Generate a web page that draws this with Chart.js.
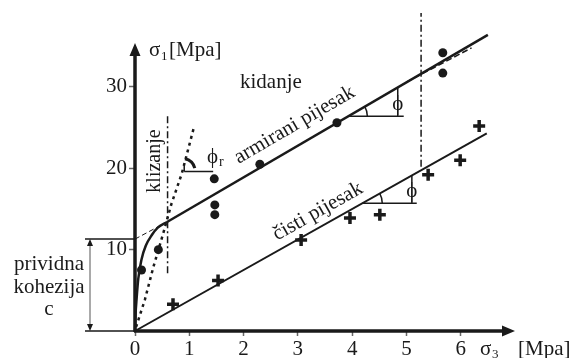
<!DOCTYPE html>
<html>
<head>
<meta charset="utf-8">
<script src="https://cdn.jsdelivr.net/npm/chart.js@4.4.1/dist/chart.umd.min.js"></script>
<style>
  body { margin: 0; background: #fff; }
  canvas { display: block; }
</style>
</head>
<body>
<canvas id="chart" width="572" height="358"></canvas>
<script>
// armirani pijesak (dots)
const armX = [0.12, 0.43, 1.46, 1.47, 1.47, 2.30, 3.72, 5.67, 5.67]
const armY = [7.5, 10.0, 18.7, 15.5, 14.3, 20.5, 25.6, 34.2, 31.7]
// čisti pijesak (crosses)
const cisX = [0.70, 1.53, 3.06, 3.96, 4.51, 5.40, 5.99, 6.34]
const cisY = [3.3, 6.2, 11.2, 13.9, 14.3, 19.2, 21.0, 25.2]

// envelopes
const armLineX = [0.59, 6.5]
const armLineY = [13.4, 36.4]
const cisLineX = [0, 6.48]
const cisLineY = [0, 24.3]
const curveX = [0, 0.01, 0.03, 0.06, 0.12, 0.2, 0.31, 0.42, 0.59]
const curveY = [0, 2, 4, 6.4, 8.8, 10.5, 11.8, 12.7, 13.4]
const dashStartX = [0, 0.59]
const dashStartY = [11.3, 13.4]
const dashEndX = [5.0, 6.2]
const dashEndY = [30.6, 34.8]
const slipX = [0.02, 0.18, 0.34, 0.52, 0.67, 0.86, 1.08]
const slipY = [0.5, 3.8, 7.9, 12.0, 15.6, 19.3, 24.9]
const klizX = [0.6, 0.6]
const klizY = [7.1, 26.6]
const breakX = [5.27, 5.27]
const breakY = [20.2, 39.1]

const xTicks = [0, 1, 2, 3, 4, 5, 6]
const yTicks = [10, 20, 30]
const cohesion = 11.3

const FONT = "'Liberation Serif', 'Times New Roman', serif"
const INK = "#1a1a1a"

function pts(xs, ys) {
  return xs.map(function (v, i) { return { x: v, y: ys[i] } })
}

function line(xs, ys, width, dash, extra) {
  return Object.assign({
    data: pts(xs, ys),
    showLine: true,
    borderColor: INK,
    borderWidth: width,
    borderDash: dash || [],
    pointRadius: 0,
    fill: false,
    clip: false,
  }, extra || {})
}

function text(ctx, str, x, y, size, opts) {
  opts = opts || {}
  ctx.save()
  ctx.font = size + "px " + FONT
  ctx.fillStyle = INK
  ctx.textAlign = opts.align || "left"
  ctx.textBaseline = opts.baseline || "alphabetic"
  ctx.translate(x, y)
  if (opts.rot) ctx.rotate(opts.rot)
  ctx.fillText(str, 0, 0)
  ctx.restore()
}

const overlay = {
  id: "overlay",
  afterDatasetsDraw(chart) {
    const ctx = chart.ctx
    const xs = chart.scales.x
    const ys = chart.scales.y
    const X = function (v) { return xs.getPixelForValue(v) }
    const Y = function (v) { return ys.getPixelForValue(v) }
    const x0 = X(0), y0 = Y(0)
    const xEnd = X(xs.max), yEnd = Y(ys.max)

    ctx.save()
    ctx.strokeStyle = INK
    ctx.fillStyle = INK
    ctx.lineCap = "butt"

    // axes with arrows
    ctx.lineWidth = 3.5
    ctx.beginPath()
    ctx.moveTo(x0, y0 + 1)
    ctx.lineTo(x0, yEnd + 8)
    ctx.moveTo(x0 - 1, y0)
    ctx.lineTo(xEnd - 8, y0)
    ctx.stroke()
    ctx.beginPath()
    ctx.moveTo(x0, yEnd)
    ctx.lineTo(x0 - 5.5, yEnd + 13)
    ctx.lineTo(x0 + 5.5, yEnd + 13)
    ctx.closePath()
    ctx.moveTo(xEnd, y0)
    ctx.lineTo(xEnd - 13, y0 - 5.5)
    ctx.lineTo(xEnd - 13, y0 + 5.5)
    ctx.closePath()
    ctx.fill()

    // cohesion dimension
    const yc = Y(cohesion)
    ctx.lineWidth = 1.5
    ctx.beginPath()
    ctx.moveTo(85, yc); ctx.lineTo(x0, yc)
    ctx.moveTo(85, y0); ctx.lineTo(x0, y0)
    ctx.stroke()
    ctx.lineWidth = 1
    ctx.strokeStyle = "#555"
    ctx.beginPath()
    ctx.moveTo(90, yc + 6); ctx.lineTo(90, y0 - 6)
    ctx.stroke()
    ctx.beginPath()
    ctx.moveTo(90, yc); ctx.lineTo(87, yc + 7); ctx.lineTo(93, yc + 7); ctx.closePath()
    ctx.moveTo(90, y0); ctx.lineTo(87, y0 - 7); ctx.lineTo(93, y0 - 7); ctx.closePath()
    ctx.fill()
    ctx.strokeStyle = INK

    // angle markers (phi) on both envelopes
    function angleMark(lx, ly, yh, xRight, xTick, r) {
      const p1 = { x: X(lx[0]), y: Y(ly[0]) }
      const p2 = { x: X(lx[1]), y: Y(ly[1]) }
      const py = Y(yh)
      const t = (py - p1.y) / (p2.y - p1.y)
      const vx = p1.x + t * (p2.x - p1.x)
      const ang = Math.atan2(p2.y - p1.y, p2.x - p1.x)
      ctx.lineWidth = 1.5
      ctx.beginPath()
      ctx.moveTo(vx, py); ctx.lineTo(X(xRight), py)
      const tx = X(xTick)
      const tt = (tx - p1.x) / (p2.x - p1.x)
      ctx.moveTo(tx, py); ctx.lineTo(tx, p1.y + tt * (p2.y - p1.y))
      ctx.stroke()
      ctx.beginPath()
      ctx.arc(vx, py, r, ang, 0)
      ctx.stroke()
      return tx
    }
    const tu = angleMark(armLineX, armLineY, 26.4, 4.95, 4.84, 19)
    const tl = angleMark(cisLineX, cisLineY, 15.7, 5.19, 5.10, 20)

    // phi_r marker on the sliding line
    const vy = Y(19.6)
    const vx = X(0.87)
    ctx.lineWidth = 1.5
    ctx.beginPath()
    ctx.moveTo(vx + 2, vy); ctx.lineTo(X(1.44), vy)
    ctx.moveTo(vx + 2, vy); ctx.lineTo(vx + 2, vy - 7)
    ctx.stroke()
    ctx.lineWidth = 3
    ctx.beginPath()
    ctx.arc(vx, vy, 13, -78 * Math.PI / 180, -15 * Math.PI / 180)
    ctx.stroke()
    ctx.restore()

    // labels
    text(ctx, "σ", 149, 56, 21)
    text(ctx, "1", 161, 60, 13)
    text(ctx, "[Mpa]", 169, 56, 21)
    text(ctx, "σ", 480, 355, 21)
    text(ctx, "3", 492, 358, 13)
    text(ctx, "[Mpa]", 518, 355, 21)
    text(ctx, "kidanje", 240, 88, 21)
    text(ctx, "klizanje", 160, 161, 20, { rot: -Math.PI / 2, align: "center" })
    text(ctx, "ϕ", 207, 163, 21)
    text(ctx, "r", 219, 166, 14)
    text(ctx, "ϕ", tu, 110, 21, { align: "center" })
    text(ctx, "ϕ", tl, 197, 21, { align: "center" })
    text(ctx, "prividna", 49, 270, 21, { align: "center" })
    text(ctx, "kohezija", 49, 293, 21, { align: "center" })
    text(ctx, "c", 49, 315, 21, { align: "center" })

    function along(str, lx, ly, at, off) {
      const a = Math.atan2(Y(ly[1]) - Y(ly[0]), X(lx[1]) - X(lx[0]))
      const t = (at - lx[0]) / (lx[1] - lx[0])
      const px = X(at)
      const py = Y(ly[0] + t * (ly[1] - ly[0]))
      text(ctx, str, px + off * Math.sin(a), py - off * Math.cos(a), 21, { rot: a, align: "center" })
    }
    along("armirani pijesak", armLineX, armLineY, 3.12, 14)
    along("čisti pijesak", cisLineX, cisLineY, 3.5, 9)
  },
}

const ctx = document.getElementById("chart").getContext("2d")
const chart = new Chart(ctx, {
  type: "scatter",
  data: {
    datasets: [
      line(curveX, curveY, 2.5, [], { cubicInterpolationMode: "monotone" }),
      line(armLineX, armLineY, 2.5),
      line(cisLineX, cisLineY, 2),
      line(dashStartX, dashStartY, 1, [5, 3]),
      line(dashEndX, dashEndY, 1.5, [6, 3]),
      line(slipX, slipY, 2.5, [3, 4]),
      line(klizX, klizY, 1.5, [7, 3, 2, 3]),
      line(breakX, breakY, 1.5, [7, 3, 2, 3]),
      {
        data: pts(armX, armY),
        pointStyle: "circle",
        pointRadius: 4.5,
        backgroundColor: INK,
        borderColor: INK,
        borderWidth: 0,
        clip: false,
      },
      {
        data: pts(cisX, cisY),
        pointStyle: "cross",
        pointRadius: 6,
        borderColor: INK,
        borderWidth: 3.5,
        clip: false,
      },
    ],
  },
  options: {
    responsive: false,
    animation: false,
    events: [],
    layout: { padding: { top: 43, right: 57, bottom: 0, left: 0 } },
    plugins: { legend: { display: false }, tooltip: { enabled: false } },
    scales: {
      x: {
        type: "linear",
        min: 0,
        max: 7,
        afterFit: function (s) { s.height = 27 },
        afterBuildTicks: function (s) { s.ticks = xTicks.map(function (v) { return { value: v } }) },
        grid: { drawOnChartArea: false, drawTicks: true, tickLength: 5, tickColor: "#666", tickWidth: 1.5 },
        border: { display: false },
        ticks: { font: { family: FONT, size: 21 }, color: INK, padding: 1, maxRotation: 0 },
      },
      y: {
        type: "linear",
        min: 0,
        max: 35.4,
        afterFit: function (s) { s.width = 135 },
        afterBuildTicks: function (s) { s.ticks = yTicks.map(function (v) { return { value: v } }) },
        grid: { drawOnChartArea: false, drawTicks: true, tickLength: 6, tickColor: "#666", tickWidth: 1.5 },
        border: { display: false },
        ticks: { font: { family: FONT, size: 21 }, color: INK, padding: 2 },
      },
    },
  },
  plugins: [overlay],
})
</script>
</body>
</html>
